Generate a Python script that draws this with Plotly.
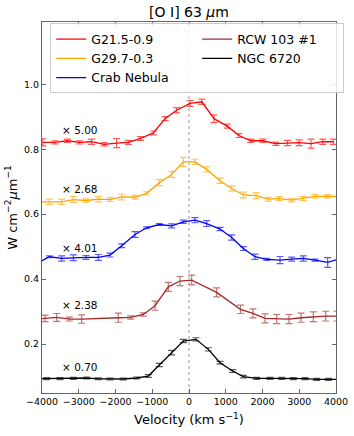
import plotly.graph_objects as go

# ---- data (velocity in km/s, scaled flux) ----
names = ["G21.5-0.9", "G29.7-0.3", "Crab Nebula", "RCW 103 #1", "NGC 6720"]
colors = ["#ff0000", "#ffa500", "#0000ff", "#a52a2a", "#000000"]
ranks = [1, 3, 5, 2, 4]
scale_labels = ["× 5.00", "× 2.68", "× 4.01", "× 2.38", "× 0.70"]
scale_label_y = [0.858, 0.676, 0.496, 0.320, 0.130]

v_g21 = [-3980, -3650, -3310, -2980, -2650, -2310, -1970, -1650, -1320, -970, -650, -340,
         30, 350, 680, 1040, 1360, 1680, 2010, 2360, 2680, 3000, 3320, 3640, 3930]
f_g21 = [0.821, 0.821, 0.826, 0.821, 0.823, 0.815, 0.819, 0.821, 0.833, 0.850, 0.894, 0.920,
         0.941, 0.946, 0.894, 0.871, 0.842, 0.826, 0.826, 0.817, 0.819, 0.820, 0.817, 0.823, 0.823]
e_g21 = [0.011, 0.005, 0.005, 0.005, 0.008, 0.005, 0.014, 0.006, 0.006, 0.006, 0.006, 0.008,
         0.009, 0.008, 0.012, 0.006, 0.006, 0.005, 0.005, 0.005, 0.008, 0.009, 0.014, 0.008, 0.008]

v_g29 = [-4130, -3800, -3465, -3147, -2803, -2467, -2150, -1832, -1469, -1152, -807, -472, -154,
         163, 481, 844, 1161, 1478, 1823, 2159, 2458, 2794, 3111, 3429, 3764, 4090]
f_g29 = [0.638, 0.638, 0.638, 0.645, 0.642, 0.646, 0.645, 0.653, 0.652, 0.664, 0.697, 0.722, 0.761,
         0.761, 0.738, 0.703, 0.679, 0.659, 0.657, 0.646, 0.648, 0.643, 0.648, 0.655, 0.655, 0.655]
e_g29 = [0.008, 0.008, 0.008, 0.009, 0.005, 0.008, 0.006, 0.009, 0.006, 0.005, 0.009, 0.009, 0.014,
         0.008, 0.008, 0.008, 0.008, 0.009, 0.009, 0.006, 0.006, 0.005, 0.006, 0.006, 0.005, 0.005]

v_crab = [-4130, -3800, -3465, -3147, -2803, -2467, -2150, -1832, -1469, -1152, -807, -472, -154,
          163, 481, 844, 1161, 1478, 1796, 2114, 2476, 2794, 3111, 3429, 3773, 4090]
f_crab = [0.449, 0.4687, 0.4636, 0.4656, 0.4667, 0.4667, 0.474, 0.5026, 0.5374, 0.558, 0.568, 0.564, 0.5764,
          0.5815, 0.571, 0.554, 0.528, 0.494, 0.469, 0.4605, 0.4585, 0.4615, 0.4636, 0.4585, 0.4513, 0.462]
e_crab = [0.003, 0.003, 0.008, 0.009, 0.006, 0.009, 0.006, 0.006, 0.009, 0.003, 0.003, 0.006, 0.005,
          0.008, 0.009, 0.005, 0.008, 0.006, 0.008, 0.003, 0.011, 0.006, 0.008, 0.003, 0.015, 0.003]

v_rcw = [-4250, -3918, -3600, -3257, -2921, -1923, -1587, -1243, -925, -562, -245,
         73, 753, 1400, 1740, 2068, 2386, 2721, 3048, 3383, 3719, 4030]
f_rcw = [0.276, 0.279, 0.282, 0.277, 0.277, 0.281, 0.282, 0.291, 0.318, 0.376, 0.394,
         0.397, 0.359, 0.307, 0.2945, 0.279, 0.277, 0.277, 0.281, 0.284, 0.286, 0.286]
e_rcw = [0.010, 0.010, 0.012, 0.006, 0.013, 0.014, 0.005, 0.005, 0.014, 0.014, 0.014,
         0.015, 0.014, 0.013, 0.014, 0.014, 0.014, 0.014, 0.014, 0.015, 0.015, 0.015]

v_ngc = [-4160, -3873, -3510, -3147, -2784, -2467, -2150, -1787, -1424, -1107, -807, -472, -154,
         190, 526, 844, 1188, 1478, 1841, 2204, 2522, 2839, 3156, 3474, 3791, 4120]
f_ngc = [0.093, 0.0933, 0.0933, 0.0944, 0.0954, 0.093, 0.0923, 0.0923, 0.0954, 0.1015, 0.1354, 0.1733, 0.2092,
         0.2144, 0.1836, 0.1426, 0.1169, 0.0995, 0.0944, 0.0944, 0.0944, 0.0933, 0.0933, 0.0913, 0.0913, 0.091]
e_ngc = [0.003, 0.003, 0.003, 0.003, 0.003, 0.003, 0.003, 0.003, 0.003, 0.004, 0.005, 0.007, 0.005,
         0.005, 0.005, 0.004, 0.004, 0.004, 0.003, 0.003, 0.003, 0.003, 0.003, 0.003, 0.003, 0.003]

velocities = [v_g21, v_g29, v_crab, v_rcw, v_ngc]
fluxes = [f_g21, f_g29, f_crab, f_rcw, f_ngc]
errors = [e_g21, e_g29, e_crab, e_rcw, e_ngc]

x_ticks = [-4000, -3000, -2000, -1000, 0, 1000, 2000, 3000, 4000]
y_ticks = [0.2, 0.4, 0.6, 0.8, 1.0]
x_range = [-4000, 4000]
y_range = [0.0492, 1.1917]
label_x = -3500

FONT = "DejaVu Sans"


def rgba(hexc, a):
    h = hexc.lstrip("#")
    r, g, b = int(h[0:2], 16), int(h[2:4], 16), int(h[4:6], 16)
    return f"rgba({r},{g},{b},{a})"


fig = go.Figure()
for name, col, rk, vx, fy, ey in zip(names, colors, ranks, velocities, fluxes, errors):
    fig.add_trace(go.Scatter(
        x=vx, y=fy, name=name, mode="lines", legendrank=rk,
        line=dict(color=col, width=1.3),
        error_y=dict(type="data", array=ey, visible=True, color=rgba(col, 0.65),
                     thickness=1.2, width=3.5),
    ))

for txt, yy in zip(scale_labels, scale_label_y):
    fig.add_annotation(x=label_x, y=yy, text=txt, showarrow=False, xanchor="left",
                       yanchor="middle", font=dict(family=FONT, size=10.5, color="black"))

fig.add_shape(type="line", xref="x", yref="paper", x0=0, x1=0, y0=0, y1=1,
              line=dict(color="#999999", width=1, dash="dot"), layer="below")

axis_common = dict(showgrid=False, zeroline=False, ticks="inside", ticklen=4,
                   tickcolor="#666666", linecolor="#666666", linewidth=1, mirror="ticks",
                   showline=True, tickangle=0, automargin=False,
                   tickfont=dict(family=FONT, size=9.5, color="black"))

fig.update_layout(
    width=354, height=436,
    margin=dict(l=42, r=18, t=22, b=43),
    paper_bgcolor="white", plot_bgcolor="white",
    font=dict(family=FONT, color="black"),
    title=dict(text="[O I] 63 <i>μ</i>m", x=189 / 354, xanchor="center",
               y=1 - 12 / 436, yanchor="middle", font=dict(family=FONT, size=14)),
    xaxis=dict(range=x_range, tickvals=x_ticks, **axis_common,
               title=dict(text="Velocity (km s<sup>−1</sup>)", font=dict(family=FONT, size=13),
                          standoff=8)),
    yaxis=dict(range=y_range, tickvals=y_ticks, tickformat=".1f", **axis_common,
               title=dict(text="W cm<sup>−2</sup><i>μ</i>m<sup>−1</sup>",
                          font=dict(family=FONT, size=13), standoff=3)),
    legend=dict(orientation="h", x=0.028, y=0.996, xanchor="left", yanchor="top",
                bgcolor="rgba(255,255,255,0.85)", bordercolor="#cccccc", borderwidth=1,
                font=dict(family=FONT, size=12.5), entrywidth=101, tracegroupgap=0,
                itemwidth=30),
    showlegend=True,
)

fig.write_html("out.html", config={"displayModeBar": False},
               post_script="document.body.style.margin='0';")
